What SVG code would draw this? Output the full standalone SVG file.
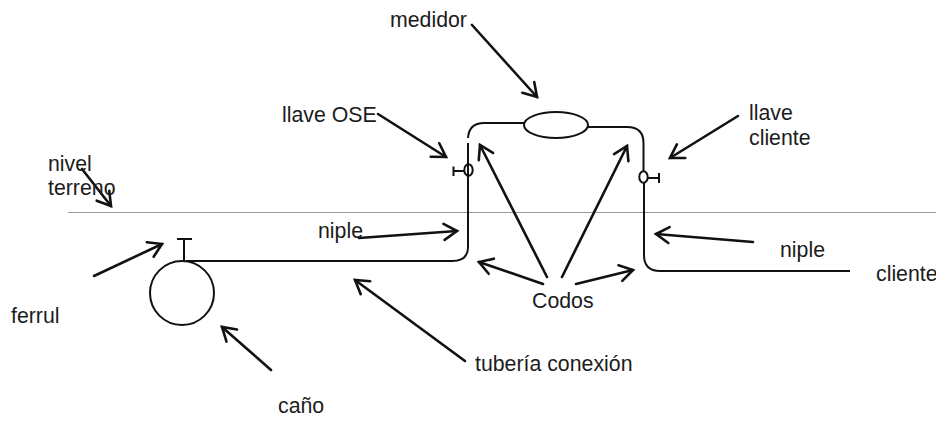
<svg xmlns="http://www.w3.org/2000/svg" width="936" height="421" viewBox="0 0 936 421">
<style>
text{font-family:"Liberation Sans",Arial,sans-serif;font-size:21.300px;fill:#1c1c1c}
.l{fill:none;stroke:#111;stroke-width:2}
.a{fill:none;stroke:#111;stroke-width:2.600;stroke-linecap:round;marker-end:url(#h)}
</style>
<defs>
<marker id="h" markerUnits="userSpaceOnUse" markerWidth="20" markerHeight="24" refX="16" refY="10" orient="auto"><path d="M3 2L16 10L3 18" fill="none" stroke="#111" stroke-width="2.600" stroke-linecap="round"/></marker>
</defs>
<rect width="936" height="421" fill="#fff"/>
<line x1="68" y1="212.500" x2="936" y2="212.500" stroke="#999" stroke-width="1.200"/>
<g id="tuberia">
<path class="l" d="M186 261H452Q468 261 468 247V143"/>
<path class="l" d="M468 138Q469 123 484 123H524"/>
<path class="l" d="M588 127H627Q643.500 127 643.500 143V172"/>
<path class="l" d="M644 182V255Q644 271 660 271H850"/>
</g>
<g id="medidor"><ellipse cx="556" cy="125" rx="32" ry="13" class="l"/></g>
<g id="llave-ose" class="l"><ellipse cx="468.500" cy="170" rx="4.200" ry="5.800"/><path d="M464 171H453.500M453.500 166.500V176"/></g>
<g id="llave-cliente" class="l"><ellipse cx="643.500" cy="177" rx="4.200" ry="5.800"/><path d="M648 178H659M659 173V183"/></g>
<g id="cano" class="l"><circle cx="182" cy="293" r="32"/><path d="M184 261V239M177 239H192"/></g>
<g id="connectors">
<path class="a" d="M82 169L111 206"/>
<path class="a" d="M94 276L162 244"/>
<path class="a" d="M271 370L222 327"/>
<path class="a" d="M359 238L457 231"/>
<path class="a" d="M378 114L446 157"/>
<path class="a" d="M472 25L537 97"/>
<path class="a" d="M738 116L670 158"/>
<path class="a" d="M753 242L656 234"/>
<path class="a" d="M465 361L355 280"/>
<path class="a" d="M547 277L480 145"/>
<path class="a" d="M562 277L627 146"/>
<path class="a" d="M543 284L479 262"/>
<path class="a" d="M576 284L633 270"/>
</g>
<g id="labels">
<text x="48" y="171">nivel</text>
<text x="48" y="195">terreno</text>
<text x="282" y="122">llave OSE</text>
<text x="390" y="27">medidor</text>
<text x="749" y="120">llave</text>
<text x="749" y="145">cliente</text>
<text x="318" y="238">niple</text>
<text x="780" y="257">niple</text>
<text x="876" y="281">cliente</text>
<text x="532" y="308">Codos</text>
<text x="11" y="323">ferrul</text>
<text x="475" y="371">tubería conexión</text>
<text x="278" y="413">caño</text>
</g>
</svg>
